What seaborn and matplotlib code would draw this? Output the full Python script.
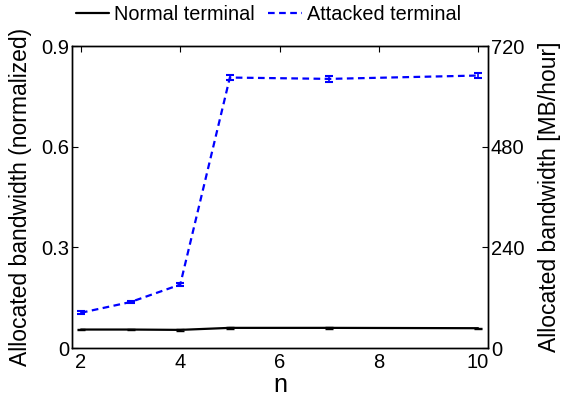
import matplotlib
matplotlib.use('Agg')
import matplotlib.pyplot as plt
import numpy as np
import pandas as pd
import seaborn as sns

sns.set_style('white')
plt.rcParams['font.family'] = ['Liberation Sans', 'DejaVu Sans']
plt.rcParams['text.color'] = 'black'
plt.rcParams['axes.labelcolor'] = 'black'
plt.rcParams['xtick.color'] = 'black'
plt.rcParams['ytick.color'] = 'black'

n_values = [2, 3, 4, 5, 7, 10]
normal_bw = [0.055, 0.055, 0.054, 0.060, 0.060, 0.059]
normal_err = [0.002, 0.002, 0.002, 0.002, 0.002, 0.002]
attacked_bw = [0.105, 0.137, 0.189, 0.806, 0.802, 0.812]
attacked_err = [0.004, 0.004, 0.005, 0.008, 0.008, 0.008]
left_ticks = [0, 0.3, 0.6, 0.9]
left_ticklabels = ['0', '0.3', '0.6', '0.9']
right_ticks = [0, 240, 480, 720]

df = pd.DataFrame({
    'n': n_values * 2,
    'bw': normal_bw + attacked_bw,
    'terminal': ['Normal terminal'] * 6 + ['Attacked terminal'] * 6,
})

fig = plt.figure(figsize=(5.61, 4.01), dpi=100)
ax = fig.add_axes([72 / 561, 53 / 401, 416 / 561, 302 / 401])

sns.lineplot(data=df, x='n', y='bw', hue='terminal', style='terminal',
             palette={'Normal terminal': 'black', 'Attacked terminal': '#0000ff'},
             dashes={'Normal terminal': '', 'Attacked terminal': (3, 2)},
             linewidth=1.6, ax=ax)
ax.errorbar(n_values, normal_bw, yerr=normal_err, fmt='none', ecolor='black',
            elinewidth=1.2, capsize=3)
ax.errorbar(n_values, attacked_bw, yerr=attacked_err, fmt='none', ecolor='#0000ff',
            elinewidth=1.2, capsize=3, capthick=1.5)

ax.set_xlim(1.82, 10.2)
ax.set_ylim(0, 0.9)
ax.set_xticks([2, 4, 6, 8, 10])
ax.set_yticks(left_ticks)
ax.set_yticklabels(left_ticklabels)
ax.tick_params(direction='in', labelsize=14.5, length=4, top=True, color='black')
ax.tick_params(axis='y', right=False, pad=2)
ax.set_xlabel('n', fontsize=18, labelpad=1)
ax.set_ylabel('Allocated bandwidth (normalized)', fontsize=16.5, labelpad=7)
for s in ax.spines.values():
    s.set_color('black')
    s.set_linewidth(1.0)

ax2 = ax.twinx()
ax2.set_ylim(0, 720)
ax2.set_yticks(right_ticks)
ax2.tick_params(direction='in', labelsize=14.5, length=4, color='black', pad=2)
ax2.set_ylabel('Allocated bandwidth [MB/hour]', fontsize=16.5, labelpad=10)
for s in ax2.spines.values():
    s.set_color('black')
    s.set_linewidth(1.0)

handles, labels = ax.get_legend_handles_labels()
ax.legend(handles, labels, loc='lower left', bbox_to_anchor=(-0.015, 1.04), ncol=2,
          frameon=False, fontsize=14.3, handlelength=1.7, handletextpad=0.25,
          columnspacing=0.65, borderaxespad=0.1)

fig.savefig('out.png', dpi=100)
